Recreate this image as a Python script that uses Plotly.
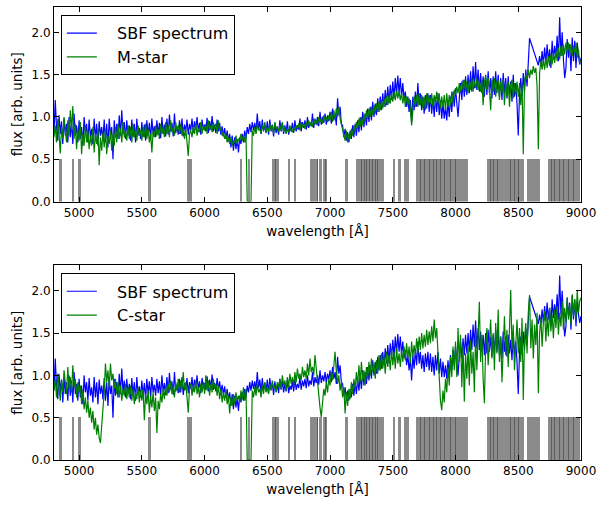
import plotly.graph_objects as go

# wavelength grid (Angstrom), 10 A steps from 4800 to 9000
wave = list(range(4800, 9001, 10))

# SBF spectrum (blue); None = masked gap bridged by a straight line
sbf = [
 0.82,1.20,0.88,0.72,1.02,0.80,0.95,0.68,0.98,0.78,
 0.92,0.70,1.00,0.76,0.94,0.68,1.04,0.78,0.90,0.70,
 0.96,0.74,0.88,0.66,1.00,0.80,0.92,0.70,0.97,0.76,
 0.86,0.68,0.98,0.74,0.92,0.66,0.95,0.78,0.88,0.72,
 0.97,0.70,0.92,0.64,0.98,0.78,0.88,0.50,0.96,0.76,
 0.92,0.74,1.02,0.78,1.08,0.80,0.94,0.74,0.96,0.78,
 0.90,0.72,0.97,0.76,0.92,0.70,0.98,0.78,0.87,0.74,
 0.94,0.76,0.91,0.72,0.96,0.78,0.93,0.74,0.98,0.80,
 0.89,0.76,0.96,0.79,0.93,0.75,1.00,0.80,0.91,0.77,
 0.98,0.79,1.03,0.83,0.93,0.77,1.04,0.81,0.89,0.79,
 0.96,0.80,0.98,0.77,0.91,0.83,0.97,0.79,0.92,0.84,
 0.98,0.81,0.95,0.85,1.00,0.83,0.93,0.79,0.97,0.85,
 0.91,0.83,0.99,0.81,0.95,0.85,1.01,0.83,0.91,0.81,
 0.97,0.83,0.93,0.79,0.89,0.77,0.87,0.74,0.84,0.71,
 0.80,0.64,0.78,0.60,0.76,0.62,0.74,0.58,0.76,0.68,
 0.80,0.70,0.84,0.74,0.88,0.80,0.92,0.82,0.94,0.84,
 0.93,0.82,1.04,0.85,0.95,0.80,0.97,0.83,0.91,0.81,
 0.95,0.79,0.97,0.83,0.91,0.77,0.93,0.81,0.89,0.79,
 0.96,0.83,0.93,0.80,0.90,0.81,0.95,0.79,0.88,0.83,
 0.93,0.81,0.96,0.83,0.90,0.85,0.98,0.83,0.94,0.87,
 0.96,0.85,1.00,0.87,0.94,0.89,1.04,0.87,0.98,0.91,
 1.00,0.89,1.06,0.91,1.00,0.93,1.04,0.91,1.02,0.95,
 1.06,0.92,1.10,0.96,1.04,0.90,1.22,1.02,1.12,0.92,
 0.90,0.76,0.86,0.72,0.82,0.70,0.84,0.74,0.90,0.76,
 0.92,0.78,0.96,0.82,1.00,0.84,1.06,0.88,1.04,0.90,
 1.10,0.94,1.12,0.96,1.18,1.00,1.16,1.02,1.22,1.06,
 1.24,1.08,1.28,1.12,1.32,1.14,1.36,1.16,1.38,1.20,
 1.42,1.22,1.46,1.26,1.49,1.28,1.46,1.24,1.40,1.20,
 1.30,1.12,1.24,1.06,1.20,0.94,1.24,1.08,1.30,1.12,
 1.40,1.14,1.28,1.08,1.24,1.04,1.26,1.10,1.28,1.06,
 1.26,1.04,1.22,1.00,1.24,1.06,1.28,1.02,1.20,0.98,
 1.16,0.98,1.12,0.96,1.18,1.00,1.24,1.06,1.30,1.12,
 1.34,1.16,1.00,1.22,1.40,1.20,1.44,1.24,1.48,1.26,
 1.50,1.28,1.54,1.30,1.60,1.34,1.65,1.32,1.56,1.30,
 1.52,1.28,1.48,1.24,1.50,1.26,1.54,1.28,1.46,1.22,
 1.48,1.26,1.54,1.28,1.50,1.24,1.46,1.20,1.52,1.28,
 1.46,1.22,1.48,1.26,1.42,1.18,1.50,1.24,1.40,1.16,
 0.78,1.28,1.46,1.24,1.52,1.30,1.56,1.36,1.58,1.93,
 None,None,None,None,None,None,1.61,1.72,1.60,1.78,
 1.62,1.82,1.64,1.86,1.66,1.80,1.58,1.90,1.68,1.84,
 1.70,1.96,1.66,2.18,1.72,2.00,1.68,1.46,1.58,1.92,
 1.70,1.86,1.54,1.94,1.66,1.90,1.58,1.88,1.72,1.62,
 1.70]

# M-star template (green, top panel)
mstar = [
 0.76,0.90,0.70,0.98,0.80,0.57,0.88,0.74,1.00,0.82,
 0.70,0.96,0.78,1.08,0.84,1.13,0.74,0.92,0.62,0.86,
 0.72,0.94,0.56,0.80,0.66,0.90,0.70,0.84,0.62,0.78,
 0.66,0.88,0.58,0.80,0.68,0.86,0.43,0.76,0.60,0.82,
 0.64,0.86,0.56,0.78,0.68,0.84,0.60,0.80,0.66,0.88,
 0.70,0.92,0.74,0.86,0.70,0.94,0.76,0.84,0.72,0.90,
 0.74,0.88,0.70,0.92,0.76,0.86,0.72,0.90,0.78,0.84,
 0.72,0.88,0.76,0.92,0.74,0.86,0.70,0.80,0.58,0.84,
 0.76,0.90,0.78,0.86,0.74,0.92,0.80,0.88,0.76,0.94,
 0.80,0.90,0.76,0.96,0.82,0.88,0.78,0.94,0.84,0.90,
 0.80,0.92,0.78,0.88,0.74,0.86,0.66,0.54,0.80,0.84,
 0.76,0.88,0.80,0.92,0.78,0.86,0.82,0.94,0.80,0.90,
 0.84,0.92,0.80,0.96,0.84,0.90,0.82,0.94,0.86,0.92,
 0.80,0.96,0.84,0.88,0.78,0.82,0.74,0.80,0.70,0.76,
 0.68,0.76,0.66,0.72,0.70,0.78,0.68,0.74,0.72,0.80,
 0.72,0.78,0.70,0.80,0.00,0.00,0.00,0.00,0.84,0.78,
 0.88,0.80,0.92,0.84,0.86,0.80,0.90,0.84,0.94,0.82,
 0.88,0.82,0.92,0.84,0.90,0.80,0.94,0.86,0.88,0.82,
 0.90,0.84,0.94,0.82,0.88,0.80,0.86,0.82,0.90,0.84,
 0.82,0.88,0.84,0.90,0.86,0.92,0.84,0.94,0.88,0.92,
 0.86,0.94,0.88,0.96,0.90,0.94,0.88,0.98,0.92,0.96,
 0.90,1.00,0.94,0.98,0.92,1.02,0.96,1.00,0.94,1.02,
 0.96,1.06,0.94,1.08,0.98,1.10,1.00,1.12,0.98,0.92,
 0.84,0.78,0.72,0.84,0.70,0.80,0.74,0.86,0.78,0.90,
 0.82,0.94,0.86,0.98,0.88,1.00,0.90,1.04,0.94,1.08,
 0.98,1.10,1.00,1.12,1.02,1.14,1.04,1.16,1.06,1.18,
 1.08,1.20,1.10,1.22,1.12,1.24,1.14,1.26,1.16,1.28,
 1.18,1.30,1.20,1.31,1.22,1.30,1.20,1.28,1.16,1.26,
 1.12,1.24,1.14,1.22,1.10,0.90,1.14,1.24,1.12,1.26,
 1.12,1.28,1.14,1.26,1.10,1.24,1.08,1.28,1.14,1.26,
 1.16,1.28,1.12,1.26,1.14,1.30,1.16,1.28,1.10,1.24,
 1.12,1.26,1.08,1.28,1.12,1.26,1.14,1.30,1.16,1.32,
 1.26,1.36,1.28,1.40,1.30,1.42,1.32,1.44,1.30,1.42,
 1.28,1.44,1.32,1.46,1.30,1.42,1.34,1.46,1.32,1.44,
 1.30,1.44,1.14,1.42,1.48,1.32,1.46,1.34,1.08,1.44,
 1.30,1.46,1.24,1.42,1.44,1.20,1.42,1.28,1.44,1.14,
 1.40,1.24,1.42,1.12,1.38,1.44,1.22,1.40,1.26,1.42,
 1.24,1.40,1.14,1.38,0.56,1.42,1.50,1.44,1.56,1.46,
 1.56,1.50,1.60,1.52,1.58,1.36,0.62,1.52,1.66,1.56,
 1.68,1.56,1.70,1.58,1.72,1.60,1.74,1.62,1.76,1.64,
 1.78,1.66,1.82,1.68,1.84,1.72,1.86,1.74,1.88,1.76,
 1.88,1.74,1.86,1.72,1.84,1.76,1.88,1.70,1.80,1.64,
 1.68]

# C-star template (green, bottom panel)
cstar = [
 0.82,0.96,0.74,1.02,0.86,0.70,0.94,0.80,1.06,0.88,
 0.78,1.10,0.84,0.98,0.80,1.12,0.86,0.96,0.74,0.92,
 0.80,0.88,0.66,0.82,0.60,0.74,0.56,0.70,0.50,0.62,
 0.44,0.58,0.36,0.50,0.30,0.42,0.26,0.20,0.40,0.62,
 0.80,1.14,0.92,1.06,0.86,1.14,0.94,1.02,0.84,0.96,
 0.78,0.92,0.74,0.88,0.70,0.84,0.76,0.90,0.72,0.86,
 0.74,0.88,0.70,0.84,0.66,0.80,0.72,0.86,0.68,0.82,
 0.70,0.84,0.47,0.78,0.66,0.82,0.56,0.76,0.62,0.80,
 0.58,0.74,0.32,0.70,0.60,0.78,0.68,0.84,0.72,0.88,
 0.76,0.90,0.80,0.94,0.78,0.88,0.74,0.92,0.82,0.96,
 0.80,0.94,0.84,1.04,0.82,0.92,0.76,0.56,0.84,0.90,
 0.76,0.88,0.80,0.94,0.78,0.86,0.74,0.90,0.80,0.92,
 0.78,1.00,0.82,0.94,0.76,0.90,0.80,0.96,0.84,0.90,
 0.76,0.88,0.72,0.84,0.68,0.80,0.70,0.82,0.66,0.76,
 0.55,0.74,0.64,0.78,0.66,0.80,0.70,0.76,0.68,0.82,
 0.72,0.86,0.70,0.84,0.00,0.00,0.00,0.00,0.82,0.74,
 0.86,0.76,0.90,0.80,0.84,0.74,0.88,0.78,0.92,0.80,
 0.86,0.78,0.90,0.82,0.94,0.84,0.88,0.80,0.92,0.86,
 0.96,0.84,1.00,0.88,0.94,0.82,0.98,0.86,1.02,0.90,
 0.98,0.88,1.04,0.92,1.08,0.96,1.02,0.94,1.10,0.98,
 1.06,0.96,1.14,1.00,1.20,1.04,1.10,1.00,1.24,1.06,
 0.96,0.80,0.62,0.51,0.70,0.84,0.76,0.92,0.80,0.96,
 0.88,1.04,0.94,1.14,1.28,1.04,0.90,1.00,0.82,0.92,
 0.74,0.86,0.55,0.80,0.64,0.84,0.72,0.92,0.78,0.96,
 0.84,1.04,0.88,1.12,0.92,1.16,0.94,1.06,0.88,1.10,
 0.96,1.16,1.00,1.20,1.04,1.14,0.96,1.18,1.02,1.24,
 1.06,1.26,1.08,1.22,1.02,1.28,1.10,1.24,1.06,1.30,
 1.12,1.28,1.08,1.32,1.14,1.26,1.10,1.30,1.16,1.34,
 1.18,1.38,1.20,1.34,1.14,1.40,1.22,1.36,1.24,1.44,
 1.26,1.46,1.30,1.50,1.32,1.48,1.34,1.54,1.36,1.52,
 1.38,1.58,1.40,1.66,1.44,1.56,1.26,0.98,0.70,0.59,
 0.82,0.68,0.96,0.80,1.10,0.88,1.22,0.98,1.34,1.06,
 1.40,0.98,1.56,1.16,1.48,0.86,1.36,0.69,1.26,0.96,
 1.34,0.88,1.42,1.02,1.28,0.80,1.50,1.06,1.60,1.87,
 1.16,1.48,0.96,0.67,1.34,1.56,1.12,1.44,1.66,1.20,
 1.50,1.06,1.62,1.26,1.78,1.16,1.46,0.92,1.40,1.70,
 1.24,1.54,1.10,1.74,2.01,1.30,1.60,1.06,1.48,1.66,
 1.26,1.56,1.16,1.68,0.71,1.44,1.62,1.26,1.74,1.95,
 1.32,1.66,1.20,1.60,1.36,1.74,0.79,1.50,1.68,1.34,
 1.62,1.76,1.40,1.70,1.46,1.80,1.52,1.72,1.44,1.78,
 1.56,1.82,1.48,1.74,1.58,1.88,1.54,1.80,1.62,1.92,
 1.66,1.84,1.60,1.96,1.70,1.90,1.66,2.00,1.74,1.88,
 1.92]

# masked wavelength regions (start, end) in Angstrom
mask_start = [4840, 4940, 4992, 5552, 5858, 6280, 6343, 6535, 6662, 6710,
              6838, 6912, 6945, 7120, 7209, 7500, 7542, 7590, 7685,
              8248, 8566, 8733]
mask_end   = [4860, 4960, 5012, 5572, 5898, 6300, 6365, 6590, 6680, 6732,
              6905, 6935, 6972, 7141, 7428, 7521, 7569, 7627, 8098,
              8543, 8672, 8995]
# narrow, more strongly masked lines inside the regions
mask_dark = [6563, 6899, 6966, 7250, 7272, 7290, 7312, 7335, 7362, 7380,
             7720, 7752, 7790, 7822, 7850, 7882, 7912, 7940, 7962, 8002, 8044,
             8282, 8302, 8332, 8362, 8402, 8440, 8470, 8500,
             8762, 8792, 8832, 8862, 8902, 8942]
mask_top = 0.5

BLUE = "#0000ff"
GREEN = "#008000"
FONT = "DejaVu Sans"
NB = "\u00a0\u00a0\u00a0"

centers = [(a + b) / 2 for a, b in zip(mask_start, mask_end)]
widths = [b - a for a, b in zip(mask_start, mask_end)]

fig = go.Figure()

for xa, ya, star, name, lg in [("x", "y", mstar, "M-star", "legend"),
                               ("x2", "y2", cstar, "C-star", "legend2")]:
    fig.add_trace(go.Bar(x=centers, y=[mask_top] * len(centers), width=widths,
                         marker=dict(color="rgba(100,100,100,0.75)", line=dict(width=0)),
                         xaxis=xa, yaxis=ya, showlegend=False, hoverinfo="skip"))
    fig.add_trace(go.Bar(x=mask_dark, y=[mask_top] * len(mask_dark), width=[7] * len(mask_dark),
                         marker=dict(color="rgba(50,50,50,0.5)", line=dict(width=0)),
                         xaxis=xa, yaxis=ya, showlegend=False, hoverinfo="skip"))
    fig.add_trace(go.Scatter(x=wave, y=sbf, mode="lines", name=NB + "SBF spectrum",
                             line=dict(color=BLUE, width=1.2), connectgaps=True,
                             xaxis=xa, yaxis=ya, legend=lg))
    fig.add_trace(go.Scatter(x=wave, y=star, mode="lines", name=NB + name,
                             line=dict(color=GREEN, width=1.2),
                             xaxis=xa, yaxis=ya, legend=lg))

xcommon = dict(range=[4800, 9000], tickvals=[5000, 5500, 6000, 6500, 7000, 7500, 8000, 8500, 9000],
               ticks="inside", ticklen=5, tickcolor="black", showline=True, linecolor="black",
               linewidth=1, mirror="ticks", showgrid=False, zeroline=False,
               tickfont=dict(family=FONT, size=12, color="black"),
               title=dict(text="wavelength [Å]", font=dict(family=FONT, size=13.5, color="black"),
                          standoff=7))
ycommon = dict(range=[0, 2.3], tickvals=[0, 0.5, 1.0, 1.5, 2.0], tickformat=".1f",
               ticks="inside", ticklen=5, tickcolor="black", showline=True, linecolor="black",
               linewidth=1, mirror="ticks", showgrid=False, zeroline=False,
               tickfont=dict(family=FONT, size=12, color="black"),
               title=dict(text="flux [arb. units]", font=dict(family=FONT, size=13.5, color="black"),
                          standoff=5))

legcommon = dict(bgcolor="white", bordercolor="black", borderwidth=1,
                 font=dict(family=FONT, size=16, color="black"),
                 xanchor="left", yanchor="top", tracegroupgap=0)

fig.update_layout(
    width=602, height=505,
    margin=dict(l=54, r=19, t=6, b=45),
    paper_bgcolor="white", plot_bgcolor="white",
    barmode="overlay", bargap=0,
    xaxis=dict(domain=[0, 1], anchor="y", **xcommon),
    yaxis=dict(domain=[0.5705, 1], anchor="x", **ycommon),
    xaxis2=dict(domain=[0, 1], anchor="y2", **xcommon),
    yaxis2=dict(domain=[0, 0.4295], anchor="x2", **ycommon),
    legend=dict(x=0.013, y=0.982, **legcommon),
    legend2=dict(x=0.013, y=0.412, **legcommon),
)

fig.write_html("out.html")
